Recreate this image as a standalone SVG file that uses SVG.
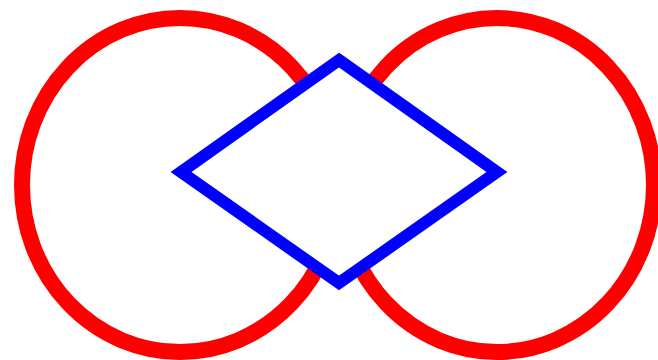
<svg xmlns="http://www.w3.org/2000/svg" width="658" height="360" viewBox="0 0 658 360">
<style>
.ring{fill:none;stroke:#ff0000;stroke-width:16}
.dia{fill:#ffffff;stroke:#0000ff;stroke-width:12;stroke-linejoin:miter}
</style>
<rect width="658" height="360" fill="#ffffff"/>
<g id="left-circle"><ellipse class="ring" cx="180" cy="185" rx="158" ry="167"/></g>
<g id="right-circle"><ellipse class="ring" cx="497" cy="185" rx="157" ry="167"/></g>
<g id="diamond"><polygon class="dia" points="339,60 497,172 339,283 181,172"/></g>
<g id="connectors"></g>
</svg>
